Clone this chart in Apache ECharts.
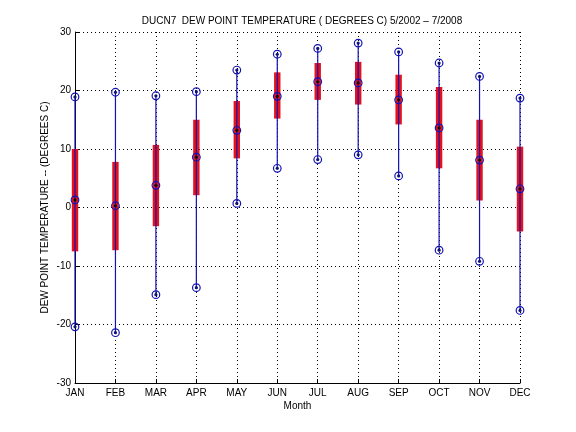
<!DOCTYPE html>
<html><head><meta charset="utf-8">
<script src="https://cdn.jsdelivr.net/npm/echarts@6/dist/echarts.min.js"></script>
<style>html,body{margin:0;padding:0;background:#fff}#c{width:576px;height:432px}</style>
</head><body><div id="c"></div>
<script>
const months = ['JAN','FEB','MAR','APR','MAY','JUN','JUL','AUG','SEP','OCT','NOV','DEC'];
const minVals = [-20.4,-21.4,-14.9,-13.7,0.7,6.7,8.2,9.0,5.4,-7.3,-9.2,-17.6];
const q1Vals = [-7.5,-7.3,-3.2,2.1,8.4,15.2,18.4,17.6,14.2,6.7,1.2,-4.1];
const medVals = [1.3,0.3,3.8,8.6,13.2,19.0,21.5,21.3,18.4,13.6,8.1,3.2];
const q3Vals = [10.0,7.8,10.7,15.0,18.2,23.1,24.7,24.9,22.7,20.6,15.0,10.4];
const maxVals = [18.9,19.7,19.1,19.8,23.5,26.2,27.2,28.1,26.6,24.7,22.4,18.7];

const data = months.map((m,i)=>[i,minVals[i],q1Vals[i],medVals[i],q3Vals[i],maxVals[i]]);
const BLUE='#1212b4', RED='#e3121e';
function marker(x,y,dot){
  return [
    {type:'circle',shape:{cx:x,cy:y,r:3.8},style:{fill:null,stroke:BLUE,lineWidth:1.2}},
    {type:'circle',shape:{cx:x,cy:y,r:1.6},style:{fill:dot}}
  ];
}
const chart = echarts.init(document.getElementById('c'));
chart.setOption({
  animation:false,
  backgroundColor:'#fff',
  title:{text:'DUCN7  DEW POINT TEMPERATURE ( DEGREES C) 5/2002 \u2013 7/2008',left:297,textAlign:'center',top:11,
    textStyle:{fontFamily:'Liberation Sans',fontSize:10,fontWeight:'normal',color:'#000'}},
  grid:{left:75,right:56,top:32,bottom:49},
  xAxis:{type:'category',data:months,boundaryGap:false,name:'Month',nameLocation:'middle',nameGap:18,
    nameMoveOverlap:false,
    nameTextStyle:{fontFamily:'Liberation Sans',fontSize:10,color:'#000'},
    axisLine:{onZero:false,lineStyle:{color:'#000',width:1}},
    axisTick:{inside:true,length:4,lineStyle:{color:'#000'}},
    axisLabel:{fontFamily:'Liberation Sans',fontSize:10,color:'#000',margin:5},
    splitLine:{show:true,lineStyle:{color:'#000',type:[1,3],width:1}}},
  yAxis:{type:'value',min:-30,max:30,interval:10,name:'DEW POINT TEMPERATURE -- (DEGREES C)',nameLocation:'middle',nameGap:25,
    nameMoveOverlap:false,
    nameTextStyle:{fontFamily:'Liberation Sans',fontSize:10,color:'#000'},
    axisLine:{show:true,onZero:false,lineStyle:{color:'#000',width:1}},
    axisTick:{show:true,inside:true,length:4,lineStyle:{color:'#000'}},
    axisLabel:{fontFamily:'Liberation Sans',fontSize:10,color:'#000',margin:4},
    splitLine:{show:true,lineStyle:{color:'#000',type:[1,3],width:1}}},
  series:[{
    type:'custom',
    data:data,
    clip:false,
    encode:{x:0,y:[1,5]},
    renderItem:function(params,api){
      const x=api.value(0);
      const pMin=api.coord([x,api.value(1)]);
      const pQ1=api.coord([x,api.value(2)]);
      const pMed=api.coord([x,api.value(3)]);
      const pQ3=api.coord([x,api.value(4)]);
      const pMax=api.coord([x,api.value(5)]);
      const cx=pMin[0];
      const children=[
        {type:'rect',shape:{x:cx-3.2,y:pQ3[1],width:6.4,height:pQ1[1]-pQ3[1]},style:{fill:RED}},
        {type:'line',shape:{x1:cx,y1:pMin[1],x2:cx,y2:pMax[1]},style:{stroke:BLUE,lineWidth:1.2}}
      ].concat(marker(cx,pMin[1],'#101070'),marker(cx,pMax[1],'#101070'),marker(cx,pMed[1],'#111'));
      return {type:'group',children:children};
    }
  }]
});
</script></body></html>
